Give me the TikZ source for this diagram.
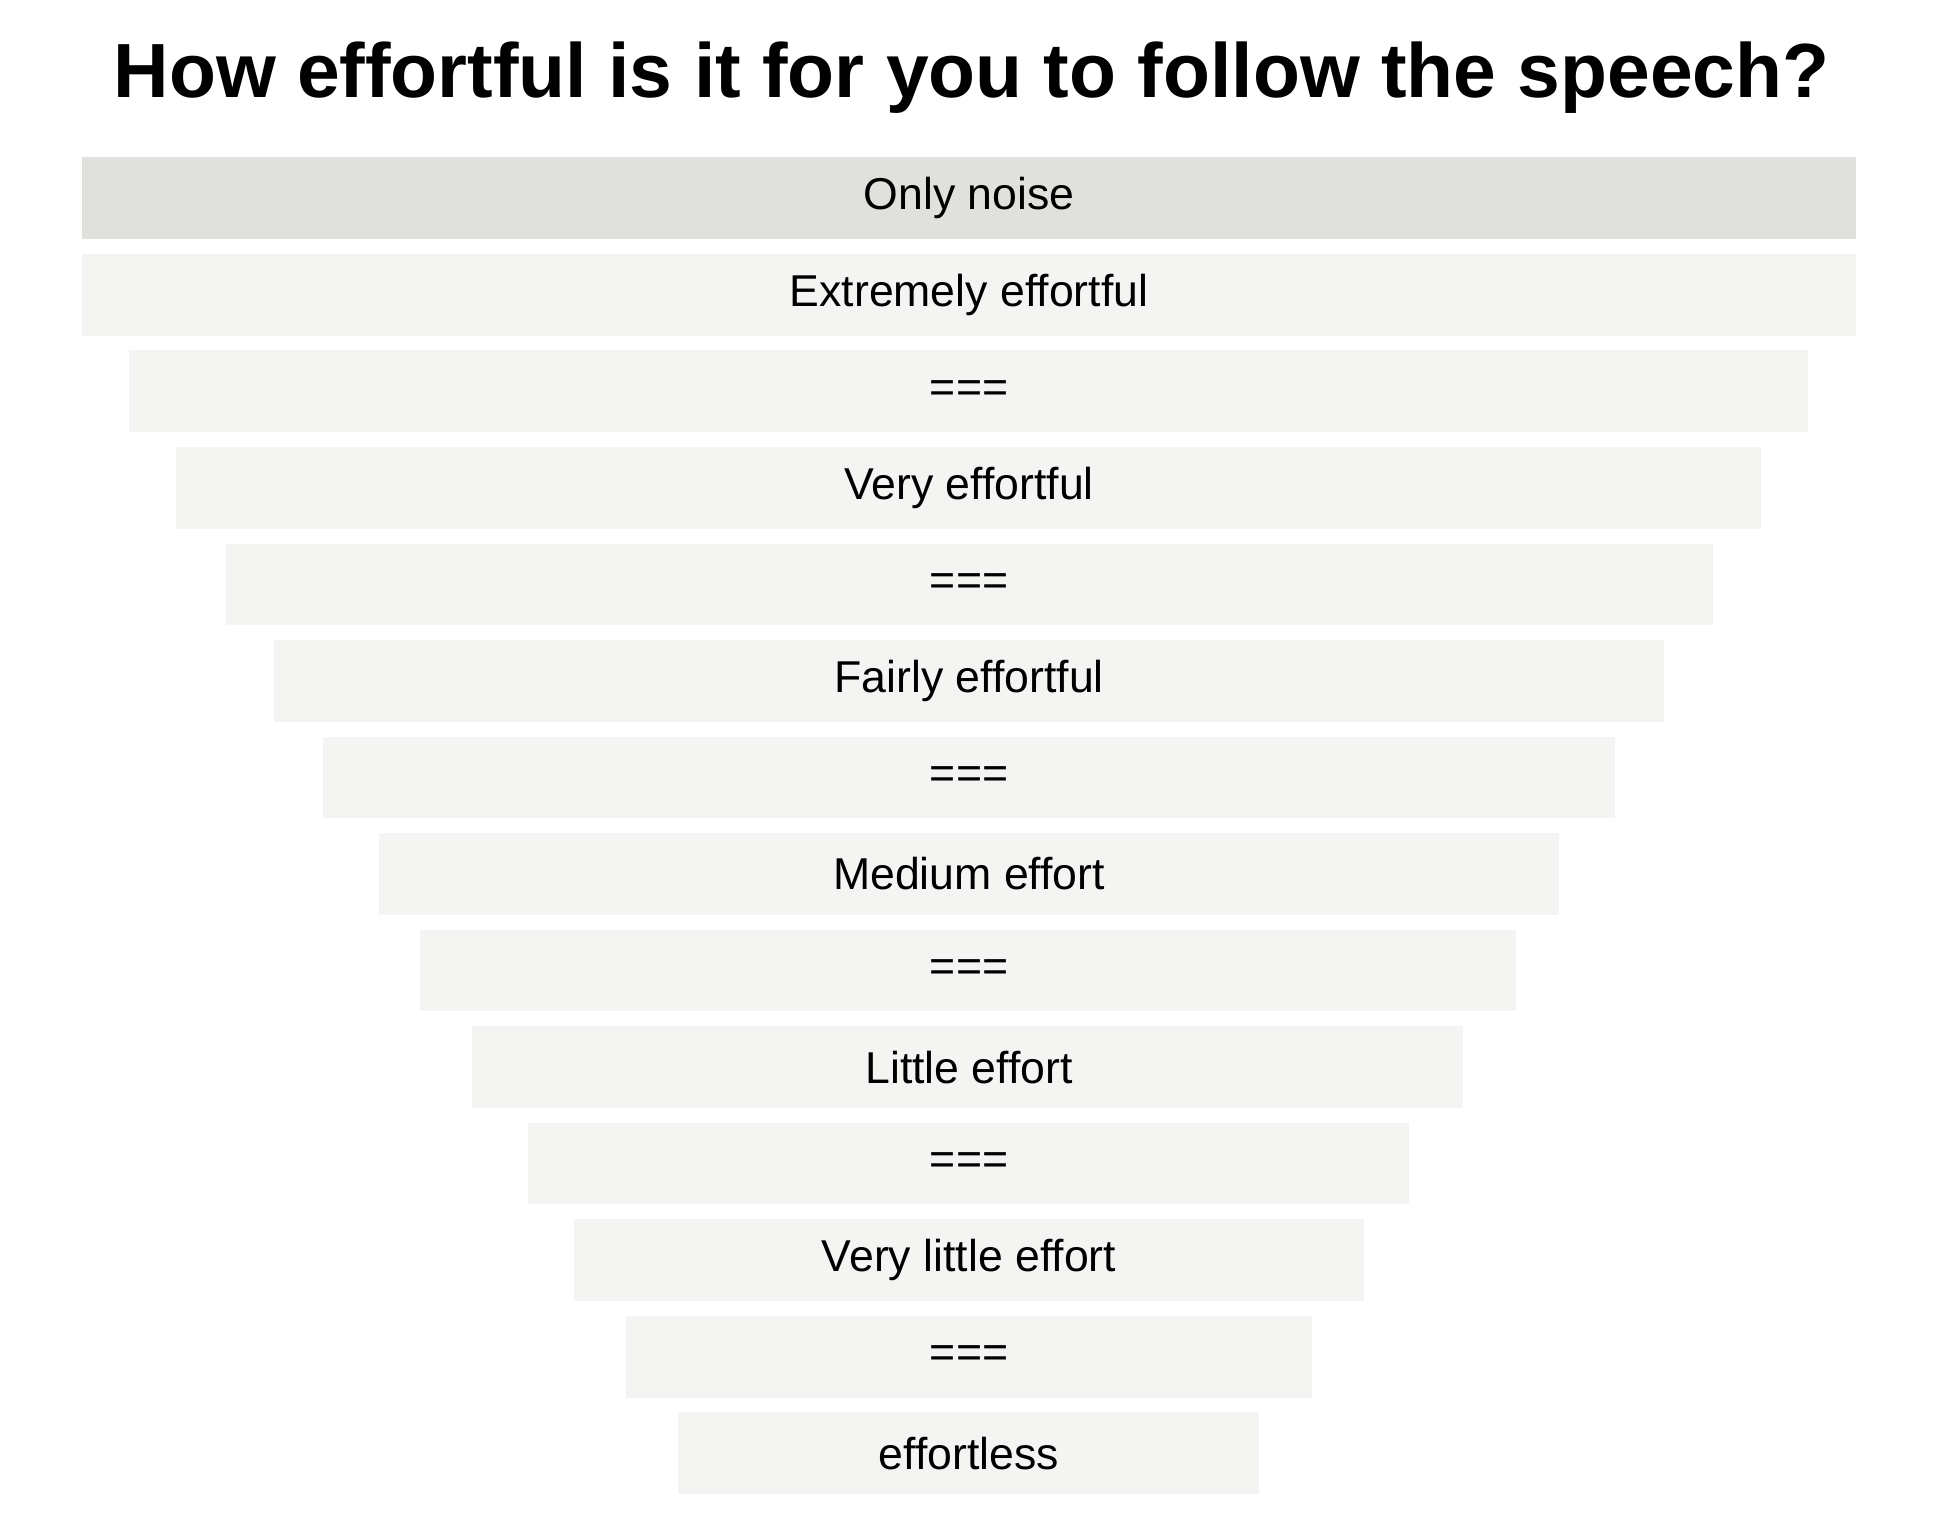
\documentclass[tikz,border=0pt]{standalone}
\usepackage{fontspec}
\setmainfont{Liberation Sans}
\definecolor{topc}{HTML}{E0E0DC}
\definecolor{rowc}{HTML}{F4F4F2}
\begin{document}
\begin{tikzpicture}[x=0.5pt,y=-0.5pt,
  bar/.style={fill=rowc,draw=none},
  lbl/.style={font=\fontsize{18}{20}\selectfont,inner sep=0pt}]
\useasboundingbox (0,0) rectangle (1568,1227);
\node[font=\bfseries\fontsize{31}{34}\selectfont] (title) at (784,63) {How effortful is it for you to follow the speech?};
\def\rows{{66/1498/Only noise},{66/1498/Extremely effortful},{104/1459/===},{142/1421/Very effortful},{182/1382/===},{221/1343/Fairly effortful},{261/1303/===},{306/1258/Medium effort},{339/1223/===},{381/1181/Little effort},{426/1137/===},{463/1101/Very little effort},{505/1059/===},{547/1016/effortless}}
\foreach [count=\i] \a/\b/\t in \rows {
  \pgfmathsetmacro{\yt}{127+77.9*(\i-1)}
  \ifnum\i=1
    \fill[topc] (\a,\yt) rectangle (\b,\yt+66);
  \else
    \fill[rowc] (\a,\yt) rectangle (\b,\yt+66);
  \fi
  \node[lbl] (r\i) at (782,\yt+33) {\t};
}
\end{tikzpicture}
\end{document}
